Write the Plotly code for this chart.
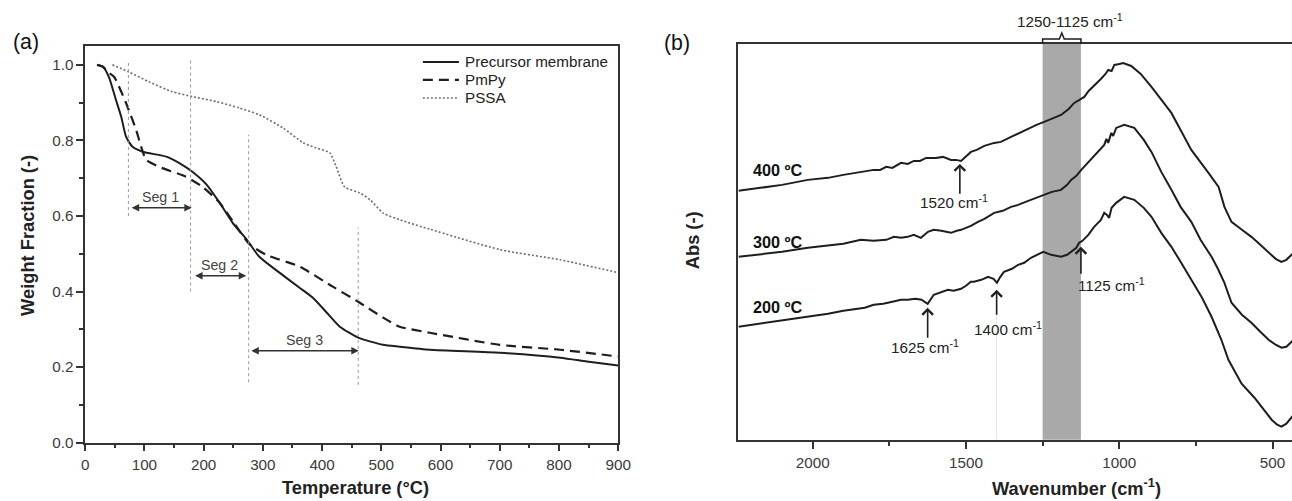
import plotly.graph_objects as go

# ---------------- (a) thermogravimetric curves ----------------
temp_precursor = [20, 30, 40, 52, 61, 69, 80, 97, 137, 159, 181, 205, 227, 249, 273,
                  294, 328, 362, 384, 408, 430, 461, 503, 531, 582, 700, 802, 847, 900]
wf_precursor = [1.0, 0.995, 0.968, 0.907, 0.862, 0.81, 0.783, 0.77, 0.757, 0.74, 0.717,
                0.683, 0.635, 0.582, 0.537, 0.492, 0.45, 0.41, 0.384, 0.344, 0.307, 0.278,
                0.259, 0.254, 0.246, 0.238, 0.225, 0.215, 0.204]

temp_pmpy = [20, 30, 40, 49, 69, 86, 103, 125, 170, 198, 227, 252, 277, 306, 362, 418,
             461, 503, 531, 582, 700, 802, 900]
wf_pmpy = [1.0, 0.995, 0.979, 0.968, 0.899, 0.828, 0.749, 0.73, 0.704, 0.677, 0.635, 0.58,
           0.526, 0.497, 0.466, 0.413, 0.373, 0.331, 0.307, 0.291, 0.259, 0.246, 0.228]

temp_pssa = [46, 74, 108, 147, 181, 221, 260, 294, 334, 368, 390, 413, 424, 438, 464, 481,
             503, 531, 582, 700, 802, 900]
wf_pssa = [1.0, 0.981, 0.955, 0.929, 0.916, 0.903, 0.886, 0.868, 0.833, 0.794, 0.78, 0.767,
           0.73, 0.677, 0.661, 0.643, 0.608, 0.59, 0.565, 0.511, 0.484, 0.45]

tga_names = ["Precursor membrane", "PmPy", "PSSA"]

# segment boundaries (temperature) and the heights of the guide lines
seg_bounds = [73, 178, 276, 461]
seg_line_low = [0.60, 0.40, 0.16, 0.153]
seg_line_high = [1.013, 1.013, 0.815, 0.569]
seg_labels = ["Seg 1", "Seg 2", "Seg 3"]
seg_arrow_x0 = [76, 183, 278]
seg_arrow_x1 = [180, 272, 462]
seg_arrow_y = [0.622, 0.442, 0.243]

# ---------------- (b) FTIR spectra (offset, arbitrary units) ----------------
wn_400 = [2242, 2100, 2016, 1950, 1900, 1843, 1801, 1780, 1760, 1740, 1712, 1690,
          1670, 1650, 1630, 1598, 1575, 1549, 1533, 1516, 1500, 1484, 1465, 1440,
          1408, 1386, 1353, 1320, 1297, 1270, 1245, 1220, 1190, 1165, 1147, 1130,
          1114, 1100, 1082, 1060, 1045, 1036, 1025, 1016, 1000, 987, 961, 930, 895, 863,
          830, 800, 765, 709, 676, 657, 634, 600, 569, 540, 513, 490, 471, 455, 438, 431]
abs_400 = [2.49, 2.55, 2.60, 2.62, 2.65, 2.68, 2.70, 2.70, 2.73, 2.72, 2.77, 2.76,
           2.79, 2.79, 2.82, 2.82, 2.83, 2.80, 2.80, 2.79, 2.84, 2.88, 2.90, 2.94,
           2.97, 2.98, 3.03, 3.08, 3.11, 3.15, 3.18, 3.21, 3.25, 3.31, 3.37, 3.40,
           3.43, 3.49, 3.54, 3.61, 3.66, 3.70, 3.69, 3.75, 3.76, 3.77, 3.74, 3.66, 3.53,
           3.40, 3.27, 3.10, 2.90, 2.67, 2.53, 2.33, 2.18, 2.10, 2.03, 1.95, 1.87, 1.81,
           1.78, 1.80, 1.85, 1.87]

wn_300 = [2242, 2100, 2016, 1950, 1900, 1843, 1801, 1760, 1735, 1712, 1690, 1670,
          1647, 1624, 1605, 1580, 1549, 1530, 1516, 1500, 1484, 1461, 1440, 1408, 1380,
          1353, 1330, 1297, 1270, 1245, 1232, 1220, 1190, 1170, 1157, 1140, 1124, 1100,
          1082, 1060, 1049, 1042, 1036, 1026, 1020, 1010, 984, 951, 920, 895, 863, 830,
          800, 765, 735, 699, 680, 657, 634, 600, 569, 540, 513, 490, 471, 455, 438, 431]
abs_300 = [1.83, 1.88, 1.92, 1.94, 1.96, 2.00, 1.99, 2.00, 2.03, 2.02, 2.03, 2.05,
           2.02, 2.08, 2.10, 2.09, 2.07, 2.09, 2.10, 2.12, 2.14, 2.18, 2.21, 2.27, 2.29,
           2.33, 2.35, 2.39, 2.42, 2.45, 2.47, 2.48, 2.50, 2.55, 2.60, 2.64, 2.70, 2.78,
           2.84, 2.91, 2.95, 3.01, 2.97, 3.07, 3.04, 3.12, 3.15, 3.12, 3.00, 2.88, 2.68,
           2.50, 2.33, 2.18, 2.00, 1.83, 1.72, 1.57, 1.37, 1.25, 1.17, 1.08, 1.00, 0.95,
           0.92, 0.93, 0.98, 1.00]

wn_200 = [2242, 2100, 2016, 1950, 1900, 1860, 1830, 1801, 1770, 1740, 1712, 1690, 1665,
          1645, 1625, 1605, 1580, 1559, 1540, 1516, 1500, 1484, 1474, 1450, 1428, 1410,
          1399, 1388, 1376, 1350, 1330, 1310, 1288, 1265, 1248, 1222, 1190, 1170, 1157,
          1140, 1131, 1120, 1101, 1082, 1060, 1049, 1040, 1033, 1025, 1010, 984, 951, 920,
          895, 863, 830, 800, 765, 730, 699, 667, 644, 601, 559, 520, 503, 485, 471, 455,
          438, 431]
abs_200 = [1.13, 1.19, 1.23, 1.26, 1.29, 1.31, 1.32, 1.35, 1.36, 1.38, 1.40, 1.40, 1.41,
           1.40, 1.36, 1.45, 1.48, 1.50, 1.49, 1.51, 1.54, 1.58, 1.58, 1.60, 1.63, 1.61,
           1.57, 1.63, 1.68, 1.71, 1.75, 1.77, 1.82, 1.85, 1.88, 1.85, 1.83, 1.85, 1.88,
           1.92, 1.97, 1.99, 2.05, 2.13, 2.20, 2.27, 2.25, 2.22, 2.32, 2.37, 2.43, 2.40,
           2.32, 2.23, 2.07, 1.93, 1.78, 1.60, 1.42, 1.23, 1.00, 0.80, 0.56, 0.42, 0.26,
           0.20, 0.15, 0.13, 0.16, 0.23, 0.25]

spectrum_labels = ["400 ºC", "300 ºC", "200 ºC"]
band_range = [1250, 1125]
peak_wn = [1520, 1625, 1400, 1125]
peak_abs = [2.76, 1.32, 1.50, 1.93]
peak_text_pos = [(1540, 2.38), (1634, 0.93), (1363, 1.11), (1026, 1.55)]

# ---------------- layout grid (pixel positions -> paper fractions) ----------------
W, H = 1307, 509
K, X0 = 0.985, 5.0


def fx(p):
    return (p - X0) / K / W


def fy(p):
    return 1 - p / K / H


def fs(s):
    return s / K


FONT = "Liberation Sans, Arial, sans-serif"
INK = "#1e1e1e"
AXC = "#333333"

tga_styles = [
    dict(color=INK, width=2),
    dict(color=INK, width=2.2, dash="10px,6px"),
    dict(color="#6e6e6e", width=1.6, dash="2px,2px"),
]

fig = go.Figure()

for name, t, w, st in zip(tga_names, [temp_precursor, temp_pmpy, temp_pssa],
                          [wf_precursor, wf_pmpy, wf_pssa], tga_styles):
    fig.add_trace(go.Scatter(x=t, y=w, mode="lines", name=name, showlegend=False,
                             line=dict(shape="spline", smoothing=0.6, **st),
                             xaxis="x", yaxis="y"))

for name, wn, ab in zip(spectrum_labels, [wn_400, wn_300, wn_200],
                        [abs_400, abs_300, abs_200]):
    fig.add_trace(go.Scatter(x=wn, y=ab, mode="lines", name=name, showlegend=False,
                             line=dict(color=INK, width=2),
                             xaxis="x2", yaxis="y2", hoverinfo="skip"))

tickfont = dict(family=FONT, size=fs(15), color="#3a3a3a")
axis_common = dict(showgrid=False, zeroline=False, showline=True, linecolor=AXC,
                   linewidth=1.5, tickcolor=AXC, tickwidth=1.5, tickfont=tickfont)

shapes = []
annotations = []


def paper_text(x, y, text, size, color="#222", **kw):
    d = dict(xref="paper", yref="paper", x=fx(x), y=fy(y), text=text, showarrow=False,
             xanchor="center", yanchor="middle",
             font=dict(family=FONT, size=fs(size), color=color))
    d.update(kw)
    return d


# legend of panel (a)
for i, (name, st) in enumerate(zip(tga_names, tga_styles)):
    yrow = 62 + 18 * i
    shapes.append(dict(type="line", xref="paper", yref="paper", x0=fx(423), x1=fx(459),
                       y0=fy(yrow), y1=fy(yrow), line=st))
    annotations.append(paper_text(463, yrow, name, 15, xanchor="left"))

# guide lines between decomposition segments
for t, lo, hi in zip(seg_bounds, seg_line_low, seg_line_high):
    shapes.append(dict(type="line", xref="x", yref="y", x0=t, x1=t, y0=lo, y1=hi,
                       line=dict(color="#9a9a9a", width=1, dash="dot")))

for lab, a, b, yv in zip(seg_labels, seg_arrow_x0, seg_arrow_x1, seg_arrow_y):
    annotations.append(dict(xref="x", yref="y", axref="x", ayref="y", x=b, y=yv, ax=a,
                            ay=yv, text="", showarrow=True, arrowside="end+start",
                            arrowhead=2, arrowsize=1, arrowwidth=1.5, arrowcolor="#333"))
    annotations.append(dict(xref="x", yref="y", x=(a + b) / 2, y=yv, text=lab,
                            showarrow=False, xanchor="center", yanchor="bottom", yshift=1,
                            font=dict(family=FONT, size=fs(14), color="#444")))

# absorption band and its bracket
shapes.append(dict(type="rect", xref="x2", yref="y2 domain", x0=band_range[0],
                   x1=band_range[1], y0=0, y1=1, fillcolor="#a9a9a9",
                   line=dict(width=0), layer="below"))
shapes.append(dict(type="line", xref="x2", yref="y2", x0=1400, x1=1400, y0=0, y1=1.4,
                   line=dict(color="#e4e4e4", width=1), layer="below"))
bmid = (band_range[0] + band_range[1]) / 2
path = (f"M{band_range[0]},{fy(44)} L{band_range[0]},{fy(39)} L{bmid + 8},{fy(39)} "
        f"L{bmid},{fy(33)} L{bmid - 8},{fy(39)} L{band_range[1]},{fy(39)} "
        f"L{band_range[1]},{fy(44)}")
shapes.append(dict(type="path", xref="x2", yref="paper", path=path,
                   line=dict(color=INK, width=1.5)))
annotations.append(paper_text(1069, 21, "1250-1125 cm<sup>-1</sup>", 15))

# peak markers
peak_arrow_len = [31, 31, 26, 28]
for wn, ab, (tx, ty), L in zip(peak_wn, peak_abs, peak_text_pos, peak_arrow_len):
    annotations.append(dict(xref="x2", yref="y2", x=wn, y=ab, ax=0, ay=L / K, text="",
                            showarrow=True, arrowhead=4, arrowsize=1.3, arrowwidth=1.6,
                            arrowcolor=INK))
    annotations.append(dict(xref="x2", yref="y2", x=tx, y=ty,
                            text=f"{wn} cm<sup>-1</sup>", showarrow=False,
                            xanchor="center", yanchor="middle",
                            font=dict(family=FONT, size=fs(15), color="#222")))

# spectrum labels
for lab, ypix in zip(spectrum_labels, [170, 242, 307]):
    annotations.append(paper_text(750, ypix, f"<b>{lab}</b>", 16, "#111", xanchor="left"))

# panel tags and axis titles
annotations += [
    paper_text(27, 42, "(a)", 21, "#111"),
    paper_text(677, 43, "(b)", 21, "#111"),
    paper_text(356, 488, "<b>Temperature (°C)</b>", 18),
    paper_text(1075, 487, "<b>Wavenumber (cm<sup>-1</sup>)</b>", 18),
    paper_text(29, 236, "<b>Weight Fraction (-)</b>", 18, textangle=-90),
    paper_text(692, 240, "<b>Abs (-)</b>", 18, textangle=-90),
]

# wavenumber shown at the right edge of the plotting area
wn_right = 2000 - (K * W + X0 - 812) * 500 / 153

fig.update_layout(
    width=W, height=H,
    margin=dict(l=0, r=0, t=0, b=0),
    paper_bgcolor="white", plot_bgcolor="white",
    font=dict(family=FONT, color="#222"),
    showlegend=False,
    xaxis=dict(domain=[fx(86), fx(618)], range=[0, 900], dtick=100, ticks="outside",
               ticklen=7, mirror=True, anchor="y",
               minor=dict(dtick=50, ticks="outside", ticklen=4, tickcolor=AXC,
                          tickwidth=1.5),
               **axis_common),
    yaxis=dict(domain=[fy(443), fy(46)], range=[0, 1.05], dtick=0.2, tickformat=".1f",
               ticks="outside", ticklen=7, mirror=True, anchor="x",
               minor=dict(dtick=0.1, ticks="outside", ticklen=4, tickcolor=AXC,
                          tickwidth=1.5),
               **axis_common),
    xaxis2=dict(domain=[fx(738), 1.0], range=[2242, wn_right],
                tickvals=[2000, 1500, 1000, 500],
                ticks="outside", ticklen=8, mirror=True, anchor="y2",
                minor=dict(tickvals=[1750, 1250, 750], ticks="outside", ticklen=5,
                           tickcolor=AXC, tickwidth=1.5),
                **axis_common),
    yaxis2=dict(domain=[fy(440), fy(44)], range=[0, 3.96], showticklabels=False,
                ticks="", anchor="x2", **axis_common),
    shapes=shapes,
    annotations=annotations,
)

fig.write_html("out.html")
